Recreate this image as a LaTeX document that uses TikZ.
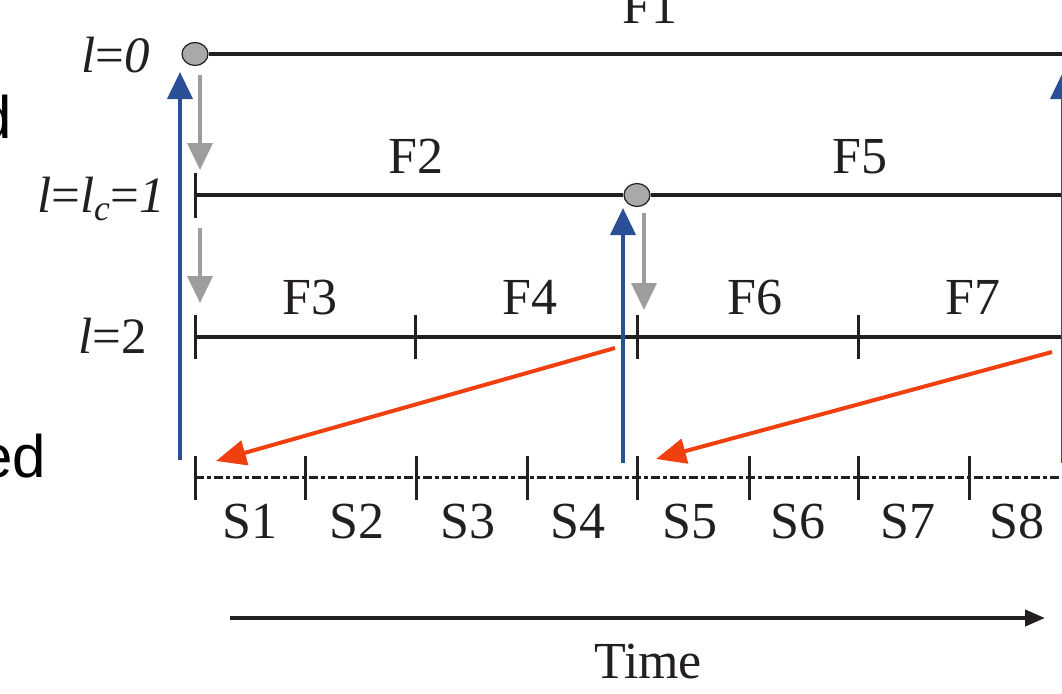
\documentclass[tikz,border=0pt]{standalone}
\usepackage{fontspec}
\setmainfont{Liberation Serif}
\newfontfamily\sansf{Liberation Sans}
\usetikzlibrary{arrows.meta,shapes.geometric}
\definecolor{ink}{HTML}{231F20}
\definecolor{bluea}{HTML}{2A4F96}
\definecolor{graya}{HTML}{9D9D9D}
\definecolor{reda}{HTML}{F0400F}
\definecolor{dotfill}{HTML}{A9A9A9}
\begin{document}
\begin{tikzpicture}[x=1pt,y=-1pt,
  lvl/.style={draw=ink,line width=3.5pt},
  tickmark/.style={draw=ink,line width=3pt},
  slot/.style={draw=ink,line width=3pt,dash pattern=on 9pt off 3pt on 4pt off 3pt},
  lab/.style={font=\fontsize{52}{52}\selectfont,text=ink,inner sep=0pt,anchor=base},
  llab/.style={font=\fontsize{51}{51}\selectfont,text=ink,inner sep=0pt,anchor=base east},
  frag/.style={font=\sansf\fontsize{60}{60}\selectfont,text=black,inner sep=0pt,anchor=base east},
  dot/.style={ellipse,draw=ink,fill=dotfill,line width=1.2pt,minimum width=26pt,minimum height=23pt,inner sep=0pt},
  uparrow/.style={draw=bluea,line width=4pt,-{Triangle[length=27pt,width=25pt]}},
  downarrow/.style={draw=graya,line width=4pt,-{Triangle[length=27pt,width=25pt]}},
  backarrow/.style={draw=reda,line width=4pt,-{Triangle[length=30pt,width=25pt]}},
  timearrow/.style={draw=ink,line width=4pt,-{Triangle[length=20pt,width=16pt]}}
]
\useasboundingbox (0,0) rectangle (1062,693);
\clip (0,0) rectangle (1062,693);

% left fragments
\node[frag] (fa) at (12,138) {d};
\node[frag] (fb) at (46,477) {ed};

% level labels
\node[llab] (l0) at (150,73) {\textit{l}=\textit{0}};
\node[llab] (l1) at (165,212) {\textit{l}=\textit{l}\textsubscript{\textit{c}}=\textit{1}};
\node[llab] (l2) at (147,353) {\textit{l}=2};

% level 0
\node[dot] (d0) at (195,54) {};
\coordinate (e0) at (1062,54);
\draw[lvl] (d0.east) -- (e0);
\node[lab] (F1) at (650,24) {F1};

% level 1
\coordinate (s1) at (195,195);
\coordinate (e1) at (1062,195);
\node[dot] (d1) at (637,195) {};
\draw[lvl] (s1) -- (d1.west);
\draw[lvl] (d1.east) -- (e1);
\draw[tickmark] (195,173) -- (195,218);
\node[lab] (F2) at (416,173) {F2};
\node[lab] (F5) at (860,173) {F5};

% level 2
\coordinate (s2) at (195,337);
\coordinate (e2) at (1062,337);
\draw[lvl] (s2) -- (e2);
\foreach \x in {195,415,637,858} \draw[tickmark] (\x,315) -- (\x,359);
\node[lab] (F3) at (310,314) {F3};
\node[lab] (F4) at (530,314) {F4};
\node[lab] (F6) at (755,314) {F6};
\node[lab] (F7) at (973,314) {F7};

% slot line
\coordinate (s3) at (195,477);
\coordinate (e3) at (1062,477);
\draw[slot] (s3) -- (e3);
\foreach \x in {195,305,416,527,637,749,858,969} \draw[tickmark] (\x,456) -- (\x,500);
\foreach \x/\n in {250/1,357/2,468/3,578/4,690/5,798/6,908/7,1017/8}
  \node[lab] (S\n) at (\x,538) {S\n};

% blue arrows
\coordinate (b1s) at (180,460); \coordinate (b1e) at (180,72);
\coordinate (b2s) at (623,463); \coordinate (b2e) at (623,208);
\coordinate (b3s) at (1063,463); \coordinate (b3e) at (1063,72);
\draw[uparrow] (b1s) -- (b1e);
\draw[uparrow] (b2s) -- (b2e);
\draw[uparrow] (b3s) -- (b3e);

% gray arrows
\coordinate (g1s) at (200,75); \coordinate (g1e) at (200,170);
\coordinate (g2s) at (200,228); \coordinate (g2e) at (200,303);
\coordinate (g3s) at (644,213); \coordinate (g3e) at (644,310);
\draw[downarrow] (g1s) -- (g1e);
\draw[downarrow] (g2s) -- (g2e);
\draw[downarrow] (g3s) -- (g3e);

% red arrows
\coordinate (r1s) at (615,348); \coordinate (r1e) at (216,461);
\coordinate (r2s) at (1052,352); \coordinate (r2e) at (656,459);
\draw[backarrow] (r1s) -- (r1e);
\draw[backarrow] (r2s) -- (r2e);

% time axis
\coordinate (t0) at (230,618); \coordinate (t1) at (1045,618);
\draw[timearrow] (t0) -- (t1);
\node[lab] (T) at (648,678) {Time};
\end{tikzpicture}
\end{document}
